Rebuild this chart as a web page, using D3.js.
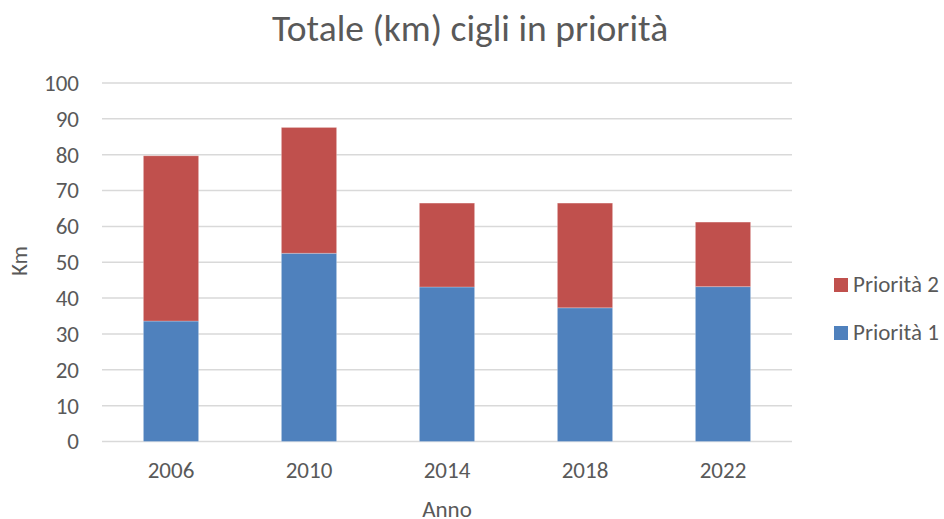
<html>
<head>
    <script src="https://d3js.org/d3.v7.min.js"></script>
    <style>
        body { margin: 0; background: #fff; }
        text { font-family: Carlito, "Liberation Sans Narrow", "Liberation Sans", Arial, sans-serif; fill: #595959; }
    </style>
</head>
<body>
    <svg id="plot"></svg>
    <script>
        var years = ["2006", "2010", "2014", "2018", "2022"];
        var priorita1 = [33.6, 52.5, 43.1, 37.3, 43.2];
        var priorita2 = [46.1, 35.1, 23.4, 29.2, 18.0];
        var seriesNames = ["Priorità 1", "Priorità 2"];
        var seriesColors = ["#4f81bd", "#c0504d"];
        var yTicks = [0, 10, 20, 30, 40, 50, 60, 70, 80, 90, 100];

        var W = 944, H = 519;
        var Margin = { left: 102, right: 152, top: 83, bottom: 77.5 };

        var svg = d3.select("#plot").attr("width", W).attr("height", H);

        var rows = years.map(function(y, i) {
            return { anno: y, p1: priorita1[i], p2: priorita2[i] };
        });
        var stack = d3.stack().keys(["p1", "p2"])(rows);

        var x = d3.scaleBand().domain(years)
            .range([Margin.left, W - Margin.right])
            .paddingInner(0.6).paddingOuter(0.3);
        var y = d3.scaleLinear().domain([0, 100])
            .range([H - Margin.bottom, Margin.top]);

        // griglia
        svg.append("g").selectAll("line")
            .data(yTicks).enter().append("line")
            .attr("x1", Margin.left).attr("x2", W - Margin.right)
            .attr("y1", function(d){ return y(d); })
            .attr("y2", function(d){ return y(d); })
            .attr("stroke", "#d9d9d9").attr("stroke-width", 1.5);

        // barre
        svg.append("g").selectAll("g")
            .data(stack).enter().append("g")
            .attr("fill", function(d, i){ return seriesColors[i]; })
            .selectAll("rect")
            .data(function(d){ return d; }).enter().append("rect")
            .attr("x", function(d){ return x(d.data.anno); })
            .attr("width", x.bandwidth())
            .attr("y", function(d){ return y(d[1]); })
            .attr("height", function(d){ return y(d[0]) - y(d[1]); })
            .attr("stroke", "rgba(255,255,255,0.25)").attr("stroke-width", 1);

        // asse y
        var yAxis = d3.axisLeft(y).tickValues(yTicks).tickSize(0).tickPadding(23);
        var yg = svg.append("g").attr("transform", "translate(" + Margin.left + ",0)").call(yAxis);
        yg.select(".domain").remove();
        yg.selectAll("text").style("font-size", "23px").attr("fill", "#595959");

        // asse x
        var xAxis = d3.axisBottom(x).tickSize(0).tickPadding(20);
        var xg = svg.append("g").attr("transform", "translate(0," + (H - Margin.bottom) + ")").call(xAxis);
        xg.select(".domain").remove();
        xg.selectAll("text").style("font-size", "23px").attr("fill", "#595959");

        // titoli
        svg.append("text").attr("x", 470).attr("y", 41)
            .attr("text-anchor", "middle").style("font-size", "37.5px")
            .text("Totale (km) cigli in priorità");
        svg.append("text").attr("x", 447).attr("y", 517)
            .attr("text-anchor", "middle").style("font-size", "23px")
            .text("Anno");
        svg.append("text").attr("transform", "translate(27,261) rotate(-90)")
            .attr("text-anchor", "middle").style("font-size", "23px")
            .text("Km");

        // legenda
        var legend = svg.append("g").selectAll("g")
            .data([1, 0]).enter().append("g")
            .attr("transform", function(d, i){ return "translate(834," + (278 + i * 48) + ")"; });
        legend.append("rect").attr("width", 14).attr("height", 14)
            .attr("fill", function(d){ return seriesColors[d]; });
        legend.append("text").attr("x", 19).attr("y", 14)
            .style("font-size", "23px")
            .text(function(d){ return seriesNames[d]; });
    </script>
</body>
</html>
